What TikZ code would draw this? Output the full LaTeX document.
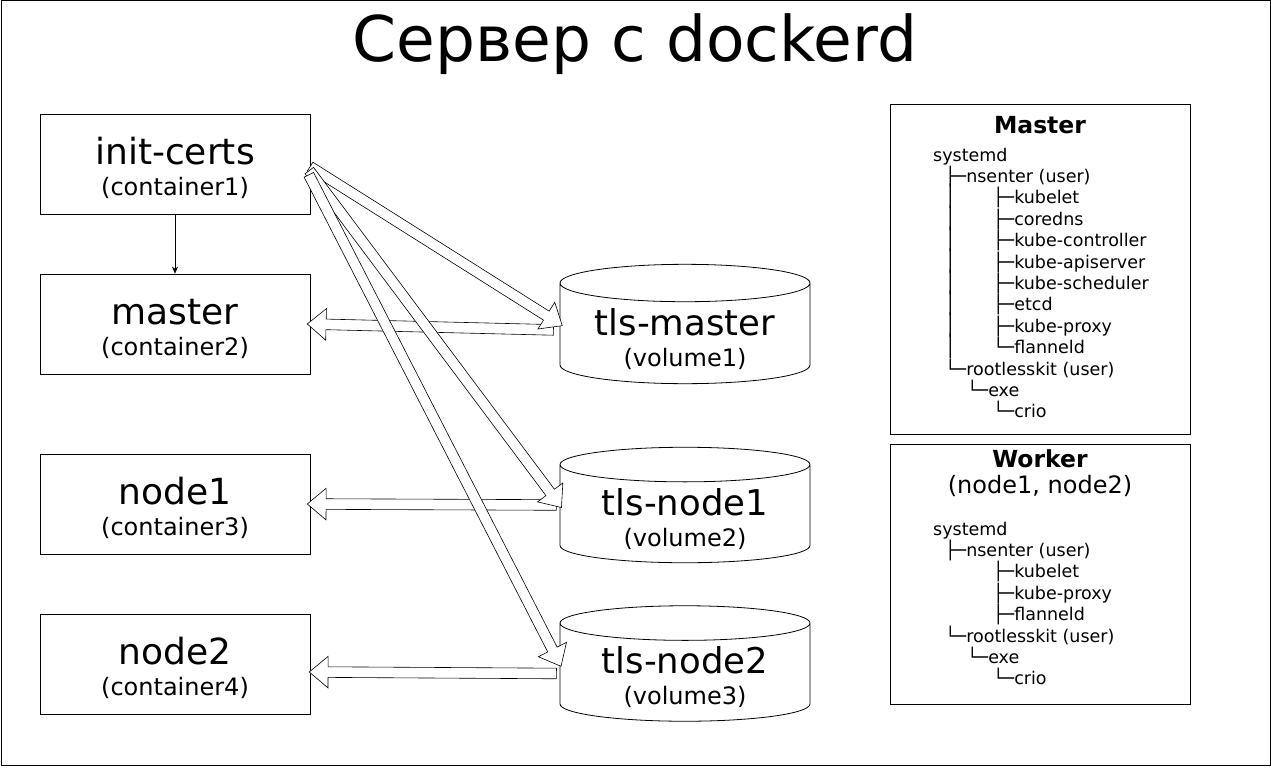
\documentclass[tikz,border=0pt]{standalone}
\usepackage{fontspec}
\usepackage{graphicx}
\setmainfont{DejaVu Sans}
\usetikzlibrary{shapes.geometric,shapes.arrows,calc,arrows.meta}

\tikzset{
  box/.style={draw, line width=0.8pt, minimum width=270pt, minimum height=100pt,
    align=center, text height=67pt, font=\fontsize{36}{31}\selectfont},
  vol/.style={cylinder, shape border rotate=90, aspect=0.2, draw, line width=0.8pt,
    minimum width=250pt, minimum height=112pt, align=center, anchor=shape center,
    text height=64pt, inner ysep=0pt, font=\fontsize{35.5}{31}\selectfont},
  treebox/.style={draw, line width=0.8pt, minimum width=300pt},
  treetext/.style={anchor=base west, inner sep=0pt, font=\fontsize{17.5}{21}\selectfont},
  treehead/.style={anchor=base, font=\fontsize{23.5}{26}\selectfont\bfseries},
  fatarrow/.style={single arrow, draw, fill=white, line width=0.6pt, inner xsep=0pt,
    inner ysep=5pt, single arrow head extend=10.5pt, single arrow tip angle=80},
}
\newcommand{\subtext}[1]{\\{\fontsize{24}{31}\selectfont #1}}
\newcommand{\vbar}{\scalebox{1}[1.2]{│}}
% hollow arrow from #1 to #2
\newcommand{\blockarrow}[2]{%
  \path let \p1=($(#2)-(#1)$), \n1={atan2(\y1,\x1)}, \n2={veclen(\x1,\y1)} in
    node[fatarrow, minimum height=\n2, rotate=\n1] at ($(#1)!0.5!(#2)$) {};}

\begin{document}
\begin{tikzpicture}[x=1pt,y=-1pt]
  \useasboundingbox (0,0) rectangle (1271,768);
  \draw[line width=1pt] (1,1) rectangle (1270,765);
  \node[anchor=base, font=\fontsize{63}{70}\selectfont] (title) at (635,62) {Сервер с dockerd};

  % containers
  \node[box] (init) at (175,164) {init-certs\subtext{(container1)}};
  \node[box] (master) at (175,324) {master\subtext{(container2)}};
  \node[box] (node1) at (175,504) {node1\subtext{(container3)}};
  \node[box] (node2) at (175,664) {node2\subtext{(container4)}};

  % volumes
  \node[vol] (tlsmaster) at (685,324) {tls-master\subtext{(volume1)}};
  \node[vol] (tlsnode1) at (685,505) {tls-node1\subtext{(volume2)}};
  \node[vol] (tlsnode2) at (685,663.5) {tls-node2\subtext{(volume3)}};

  \draw[-{Stealth[length=7pt,width=6pt]}, line width=0.6pt] (init) -- (master);

  \coordinate (tmW) at (tlsmaster.west |- tlsmaster.shape center);
  \coordinate (tn1W) at (tlsnode1.west |- tlsnode1.shape center);
  \coordinate (tn2W) at (tlsnode2.west |- tlsnode2.shape center);
  \coordinate (icA) at ($(init.east)+(-3,1)$);
  \coordinate (icB) at ($(init.east)+(-3,4)$);
  \coordinate (icC) at ($(init.east)+(-3,8)$);
  \coordinate (tmT) at ($(tmW)+(-3,6)$);
  \coordinate (tn2T) at ($(tn2W)+(0,10)$);
  \coordinate (n2E) at ($(node2.east)+(2,8)$);

  \blockarrow{tmT}{master.east}
  \blockarrow{tn1W}{node1.east}
  \blockarrow{tn2T}{n2E}
  \blockarrow{icA}{tmW}
  \blockarrow{icB}{tn1W}
  \blockarrow{icC}{tn2W}

  % Master tree
  \node[treebox, minimum height=330pt] (mbox) at (1040,269) {};
  \node[treehead] (mhead) at (1040,133) {Master};
  \foreach \x/\k/\t in {933/0/systemd, 945/1/├─nsenter (user), 993/2/├─kubelet,
      993/3/├─coredns, 993/4/├─kube-controller, 993/5/├─kube-apiserver,
      993/6/├─kube-scheduler, 993/7/├─etcd, 993/8/├─kube-proxy, 993/9/└─flanneld,
      945/10/└─rootlesskit (user), 967/11/└─exe, 993/12/└─crio}
    \node[treetext] (m-\k) at (\x,161+21.4*\k) {\t};
  \foreach \k in {2,...,9}
    \node[treetext] (mv-\k) at (945,161+21.4*\k) {\vbar};

  % Worker tree
  \node[treebox, minimum height=260pt] (wbox) at (1040,574) {};
  \node[treehead] (whead) at (1040,467) {Worker};
  \node[anchor=base, font=\fontsize{24}{26}\selectfont] (wsub) at (1040,493) {(node1, node2)};
  \foreach \x/\k/\t in {933/0/systemd, 945/1/├─nsenter (user), 993/2/├─kubelet,
      993/3/├─kube-proxy, 993/4/├─flanneld, 945/5/└─rootlesskit (user),
      967/6/└─exe, 993/7/└─crio}
    \node[treetext] (w-\k) at (\x,535+21.4*\k) {\t};
\end{tikzpicture}
\end{document}
